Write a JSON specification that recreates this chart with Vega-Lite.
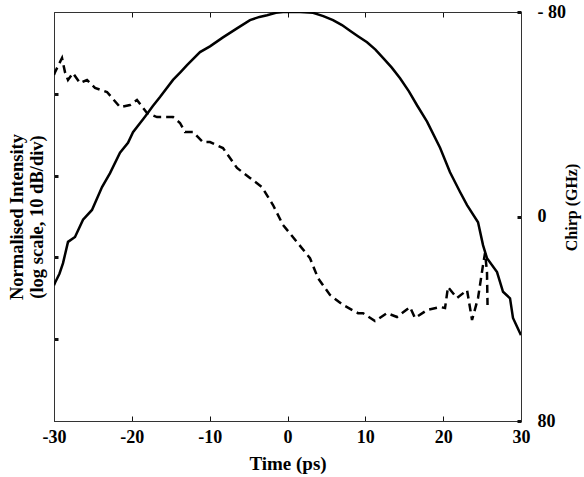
{
  "$schema": "https://vega.github.io/schema/vega-lite/v6.json",
  "width": 467,
  "height": 409,
  "autosize": {"type": "none"},
  "padding": {"left": 54, "top": 12, "right": 63, "bottom": 56},
  "background": "white",
  "config": {
    "view": {"stroke": "#333", "strokeWidth": 1},
    "font": "Liberation Serif",
    "axis": {"grid": false, "domainColor": "#333", "tickColor": "#111", "labelFont": "Liberation Serif", "titleFont": "Liberation Serif", "labelFontWeight": "bold", "titleFontWeight": "bold", "labelColor": "#000000", "titleColor": "#000000"}
  },
  "datasets": {
    "intensity": [
      {"t": -30, "db": -33.4}, {"t": -29.87, "db": -33.1}, {"t": -29.3, "db": -32.0}, {"t": -28.84, "db": -30.7}, {"t": -28.2, "db": -28.1},
      {"t": -27.3, "db": -27.5}, {"t": -26.27, "db": -25.4}, {"t": -25.12, "db": -24.2}, {"t": -23.83, "db": -21.4},
      {"t": -22.8, "db": -19.7}, {"t": -21.52, "db": -17.2}, {"t": -20.49, "db": -16.0}, {"t": -19.85, "db": -14.7},
      {"t": -18.31, "db": -12.8}, {"t": -17.3, "db": -11.5}, {"t": -16.38, "db": -10.4}, {"t": -14.71, "db": -8.3}, {"t": -13.8, "db": -7.4}, {"t": -12.91, "db": -6.5},
      {"t": -11.24, "db": -4.9}, {"t": -9.96, "db": -4.2}, {"t": -8.29, "db": -3.1}, {"t": -6.49, "db": -2.0},
      {"t": -4.82, "db": -1.0}, {"t": -3.6, "db": -0.6}, {"t": -2.63, "db": -0.4}, {"t": -1.5, "db": -0.1}, {"t": -0.58, "db": 0}, {"t": 1.61, "db": 0},
      {"t": 3.28, "db": -0.1}, {"t": 4.6, "db": -0.5}, {"t": 5.85, "db": -1.0}, {"t": 7.0, "db": -1.6}, {"t": 8.03, "db": -2.3}, {"t": 9.1, "db": -3.0}, {"t": 10.22, "db": -3.7},
      {"t": 11.3, "db": -4.6}, {"t": 12.27, "db": -5.6}, {"t": 13.4, "db": -6.8}, {"t": 14.46, "db": -8.1}, {"t": 15.6, "db": -9.7}, {"t": 16.64, "db": -11.4}, {"t": 17.93, "db": -13.4},
      {"t": 19.6, "db": -16.6}, {"t": 20.88, "db": -19.6}, {"t": 22.17, "db": -22.0}, {"t": 23.07, "db": -23.6},
      {"t": 24.48, "db": -25.7}, {"t": 25.12, "db": -28.5}, {"t": 25.63, "db": -30.1}, {"t": 26.92, "db": -31.8},
      {"t": 27.69, "db": -34.2}, {"t": 28.59, "db": -35.0}, {"t": 28.97, "db": -37.4}, {"t": 30, "db": -39.5}
    ],
    "chirp": [
      {"t": -30, "c": 55.4}, {"t": -29.87, "c": 56.5}, {"t": -28.97, "c": 62.0}, {"t": -28.59, "c": 56.5},
      {"t": -28.2, "c": 53.4}, {"t": -27.56, "c": 56.1}, {"t": -26.66, "c": 52.2}, {"t": -25.76, "c": 53.4},
      {"t": -24.73, "c": 50.3}, {"t": -23.19, "c": 48.7}, {"t": -21.52, "c": 42.8}, {"t": -20.24, "c": 43.6},
      {"t": -19.34, "c": 45.6}, {"t": -18.05, "c": 40.5}, {"t": -16.77, "c": 38.9}, {"t": -14.71, "c": 38.9},
      {"t": -13.81, "c": 36.6}, {"t": -13.17, "c": 33.1}, {"t": -12.14, "c": 33.1}, {"t": -10.86, "c": 29.1},
      {"t": -9.96, "c": 29.1}, {"t": -8.29, "c": 26.8}, {"t": -6.49, "c": 19.0}, {"t": -4.82, "c": 15.1},
      {"t": -3.28, "c": 11.5}, {"t": -1.86, "c": 4.5}, {"t": -0.58, "c": -3.3}, {"t": 1.22, "c": -10.0},
      {"t": 2.89, "c": -16.3}, {"t": 3.92, "c": -24.1}, {"t": 5.46, "c": -30.7}, {"t": 7.13, "c": -34.6},
      {"t": 9.06, "c": -37.8}, {"t": 9.7, "c": -37.8}, {"t": 11.24, "c": -40.9}, {"t": 12.79, "c": -37.8},
      {"t": 14.07, "c": -39.3}, {"t": 15.74, "c": -35.4}, {"t": 16.38, "c": -39.7}, {"t": 17.93, "c": -36.6},
      {"t": 19.6, "c": -35.4}, {"t": 20.24, "c": -35.8}, {"t": 20.62, "c": -27.6}, {"t": 21.78, "c": -31.9},
      {"t": 23.07, "c": -28.8}, {"t": 23.71, "c": -40.5}, {"t": 24.48, "c": -31.9}, {"t": 25.12, "c": -19.0},
      {"t": 25.38, "c": -14.3}, {"t": 25.63, "c": -21.7}, {"t": 25.7, "c": -34.6}
    ]
  },
  "layer": [
    {
      "data": {"name": "intensity"},
      "mark": {"type": "line", "color": "black", "strokeWidth": 2.5, "clip": true},
      "encoding": {
        "x": {"field": "t", "type": "quantitative", "scale": {"domain": [-30, 30], "nice": false, "zero": false},
          "axis": {"orient": "bottom", "values": [-30, -20, -10, 0, 10, 20, 30], "labelExpr": "'' + datum.value", "labelFlush": false, "labelOverlap": false, "tickSize": -5, "tickWidth": 1, "labelFontSize": 18, "labelPadding": 12, "title": "Time (ps)", "titleFontSize": 19, "titlePadding": 8}},
        "y": {"field": "db", "type": "quantitative", "scale": {"domain": [-50, 0], "nice": false, "zero": false},
          "axis": {"orient": "left", "values": [-40, -30, -20, -10], "labels": false, "tickSize": -4, "tickWidth": 3, "title": ["Normalised Intensity", "(log scale, 10 dB/div)"], "titleFontSize": 18.5, "titleLineHeight": 20, "titlePadding": 6}}
      }
    },
    {
      "data": {"name": "chirp"},
      "mark": {"type": "line", "color": "black", "strokeWidth": 2.5, "strokeDash": [8, 5], "clip": true},
      "encoding": {
        "x": {"field": "t", "type": "quantitative",
          "axis": {"orient": "top", "values": [-20, -10, 0, 10, 20], "labels": false, "tickSize": -5, "tickWidth": 1, "title": null}},
        "y": {"field": "c", "type": "quantitative", "scale": {"domain": [-80, 80], "nice": false, "zero": false},
          "axis": {"orient": "right", "values": [-80, 0, 80], "labelExpr": "datum.value == 80 ? '- 80' : '' + abs(datum.value)", "tickSize": -4, "tickWidth": 3, "labelFontSize": 18, "labelPadding": 20, "title": "Chirp (GHz)", "titleFontSize": 16, "titleAngle": 270, "titleY": 195, "titlePadding": 14}}
      }
    }
  ],
  "resolve": {"scale": {"y": "independent"}, "axis": {"x": "independent", "y": "independent"}}
}
